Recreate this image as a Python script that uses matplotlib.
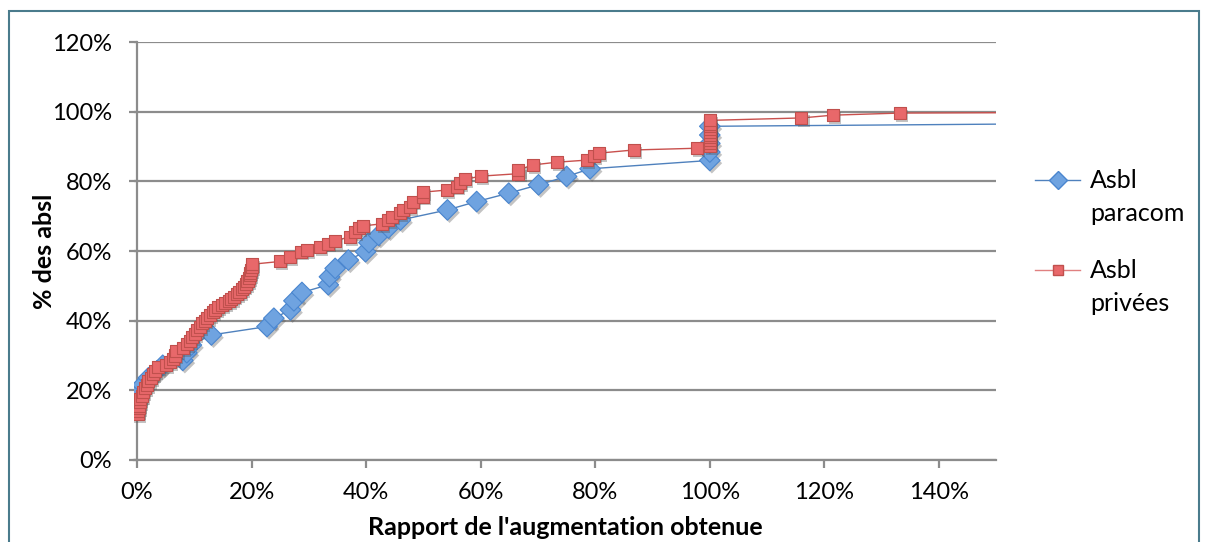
import numpy as np
import matplotlib.pyplot as plt
import matplotlib.patheffects as pe
from matplotlib.lines import Line2D
from matplotlib.patches import Rectangle
from matplotlib.ticker import PercentFormatter

plt.rcParams['font.family'] = ['Lato', 'DejaVu Sans']

# Asbl paracom: (rapport de l'augmentation, % cumulé des asbl)
paracom_x = [0.0, 0.3, 1.0, 2.0, 3.5, 4.5, 8.0, 8.7, 9.5, 13.0,
             22.7, 23.9, 26.8, 27.4, 28.8, 33.4, 33.6, 34.6, 36.9, 39.9,
             40.5, 42.2, 43.9, 46.0, 54.2, 59.3, 64.9, 70.1, 75.0, 79.1,
             100.0, 100.0, 100.0, 100.0, 100.0, 440.0]
paracom_y = [16.8, 19.2, 21.6, 23.6, 25.6, 27.2, 28.6, 30.8, 33.0, 35.9,
             38.3, 40.7, 43.1, 45.7, 48.1, 50.3, 52.6, 55.0, 57.4, 59.8,
             62.4, 64.5, 66.6, 68.9, 71.8, 74.2, 76.6, 79.0, 81.4, 83.6,
             86.0, 88.4, 90.9, 93.3, 95.8, 100.0]

# Asbl privées
privees_x = [0.1, 0.2, 0.3, 0.4, 0.5, 0.6, 0.8, 1.1, 1.4, 1.7,
             2.0, 2.4, 2.8, 3.2, 3.7, 5.0, 5.8, 6.3, 6.6, 6.9,
             8.0, 8.7, 9.2, 9.6, 10.1, 10.5, 11.0, 11.4, 11.9, 12.3,
             12.8, 13.2, 13.7, 14.2, 14.8, 15.4, 16.0, 16.5, 17.0, 17.5,
             17.9, 18.3, 18.7, 19.0, 19.3, 19.5, 19.7, 19.8, 19.9, 20.0,
             20.1, 25.0, 26.7, 28.7, 29.6, 32.0, 33.4, 34.6, 37.2, 38.1,
             38.7, 39.5, 42.7, 43.9, 44.5, 45.9, 46.5, 47.7, 48.2, 50.0,
             50.0, 54.1, 55.9, 56.4, 57.3, 60.1, 66.6, 66.6, 69.1, 73.3,
             78.6, 79.7, 80.7, 86.7, 97.7, 100.0, 100.0, 100.0, 100.0, 100.0,
             100.0, 100.0, 100.0, 100.0, 100.0, 116.0, 121.5, 133.2, 200.0]
privees_y = [13.2, 14.0, 14.8, 15.6, 16.6, 17.4, 18.4, 19.4, 20.6, 21.6,
             22.6, 23.6, 24.6, 25.6, 26.6, 27.3, 28.0, 29.0, 30.0, 31.2,
             32.2, 33.2, 34.2, 35.2, 36.2, 37.2, 38.2, 39.2, 40.0, 40.8,
             41.6, 42.4, 43.2, 43.8, 44.4, 45.0, 45.6, 46.2, 46.9, 47.6,
             48.3, 49.0, 49.8, 50.6, 51.4, 52.2, 53.0, 53.8, 54.6, 55.4,
             56.2, 57.0, 58.2, 59.8, 60.3, 61.2, 62.1, 62.9, 64.1, 65.4,
             66.5, 67.2, 67.8, 68.9, 69.9, 70.8, 71.8, 72.7, 74.2, 75.6,
             76.9, 77.5, 78.5, 79.5, 80.6, 81.5, 82.2, 83.3, 84.7, 85.5,
             86.1, 87.3, 88.1, 89.0, 89.5, 90.2, 91.0, 91.8, 92.6, 93.4,
             94.2, 95.0, 95.8, 96.6, 97.5, 98.2, 99.0, 99.6, 100.0]

series_names = ['Asbl\nparacom', 'Asbl\nprivées']

blue_line, blue_face, blue_edge = '#4f81bd', '#6fa3e0', '#4a86cf'
red_line, red_face, red_edge = '#c9504d', '#e8686a', '#c0504d'

fig = plt.figure(figsize=(12.08, 5.42), dpi=100)
ax = fig.add_axes([0.1110, 0.1513, 0.7137, 0.7712])

shadow = [pe.SimplePatchShadow(offset=(1.5, -2), alpha=0.35, shadow_rgbFace='#555555'), pe.Normal()]

ax.plot(paracom_x, paracom_y, color=blue_line, lw=1.0, zorder=3)
ax.plot(privees_x, privees_y, color=red_line, lw=1.0, zorder=3)
ax.scatter(paracom_x, paracom_y, marker='D', s=110, facecolor=blue_face,
           edgecolor=blue_edge, linewidth=0.8, zorder=4, path_effects=shadow)
ax.scatter(privees_x, privees_y, marker='s', s=75, facecolor=red_face,
           edgecolor=red_edge, linewidth=0.8, zorder=5, path_effects=shadow)

ax.set_xlim(-0.5, 150)
ax.set_ylim(0, 120)
ax.set_xticks(np.arange(0, 141, 20))
ax.set_yticks(np.arange(0, 121, 20))
ax.xaxis.set_major_formatter(PercentFormatter(decimals=0))
ax.yaxis.set_major_formatter(PercentFormatter(decimals=0))

ax.grid(axis='y', color='#8c8c8c', lw=1.6)
ax.set_axisbelow(True)
for side in ('top', 'right'):
    ax.spines[side].set_visible(False)
for side in ('left', 'bottom'):
    ax.spines[side].set_color('#8c8c8c')
    ax.spines[side].set_linewidth(1.6)
ax.spines['left'].set_position(('data', 0))
ax.tick_params(colors='#8c8c8c', length=6, width=1.6, labelcolor='black',
               labelsize=17)
ax.tick_params(axis='y', pad=12)
ax.tick_params(axis='x', pad=10)

ax.set_xlabel("Rapport de l'augmentation obtenue", fontsize=18,
              fontweight='bold', labelpad=9)
ax.set_ylabel('% des absl', fontsize=18, fontweight='bold', labelpad=-3)

# legend drawn by hand: marker aligned with the first line of each label
legend_styles = [
    dict(line='#4f81bd', marker='D', ms=9, mfc=blue_face, mec=blue_edge),
    dict(line='#e08080', marker='s', ms=7, mfc=red_face, mec=red_edge),
]
for i, (name, st) in enumerate(zip(series_names, legend_styles)):
    yy = 1 - (180 + 90 * i) / 542
    fig.add_artist(Line2D([1035 / 1208, 1080 / 1208], [yy, yy], lw=1.0,
                          color=st['line'], transform=fig.transFigure))
    fig.add_artist(Line2D([1057.5 / 1208], [yy], lw=0, transform=fig.transFigure,
                          marker=st['marker'], ms=st['ms'], mfc=st['mfc'],
                          mec=st['mec']))
    fig.text(1090 / 1208, yy + 11 / 542, name, fontsize=18, va='top', ha='left',
             linespacing=1.55)

fig.patches.append(Rectangle((9 / 1208, -0.05), 1190 / 1208, 1.05 - 11 / 542,
                             transform=fig.transFigure, fill=False,
                             edgecolor='#4a7b8c', lw=1.5))

fig.savefig('out.png', dpi=100)
